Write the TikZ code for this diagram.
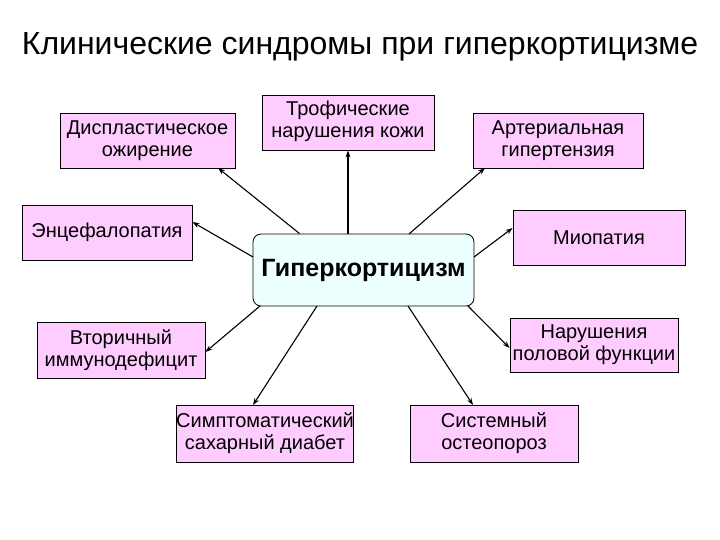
\documentclass[tikz,border=0pt]{standalone}
\usepackage{fontspec}
\setmainfont{Liberation Sans}
\usetikzlibrary{arrows.meta}
\definecolor{pinkbox}{HTML}{FFCCFF}
\definecolor{cyanbox}{HTML}{EEFFFF}
\begin{document}
\begin{tikzpicture}[x=1pt,y=-1pt,
  syn/.style={draw=black,fill=pinkbox,line width=0.8pt,align=center,font=\fontsize{20}{22}\selectfont,inner sep=0pt},
  arr/.style={-{Stealth[length=7pt,width=5pt]},line width=1.1pt}]
\useasboundingbox (0,0) rectangle (720,540);
\node (t) at (360,47) {\fontsize{32}{34}\selectfont Клинические синдромы при гиперкортицизме};
\node[syn,minimum width=175,minimum height=55] (b1) at (147.5,140.5) {Диспластическое\\ожирение};
\node[syn,minimum width=172,minimum height=55] (b2) at (348,122.5) {\raisebox{6pt}{\begin{tabular}{@{}c@{}}Трофические\\нарушения кожи\end{tabular}}};
\node[syn,minimum width=170,minimum height=55] (b3) at (558,140.5) {Артериальная\\гипертензия};
\node[syn,minimum width=170,minimum height=55] (b4) at (107,232.5) {Энцефалопатия};
\node[syn,minimum width=172,minimum height=55] (b5) at (599,237.5) {Миопатия};
\node[syn,minimum width=168,minimum height=56] (b6) at (121,350) {Вторичный\\иммунодефицит};
\node[syn,minimum width=168,minimum height=54] (b7) at (594,345) {Нарушения\\половой функции};
\node[syn,minimum width=170,minimum height=57] (b8) at (265,433.5) {Симптоматический\\сахарный диабет};
\node[syn,minimum width=168,minimum height=57] (b9) at (494,433.5) {Системный\\остеопороз};
\node[draw=black,fill=cyanbox,rounded corners=8pt,line width=0.8pt,minimum width=221,minimum height=72,inner sep=0pt,font=\fontsize{25}{28}\selectfont\bfseries] (c) at (363.5,270) {Гиперкортицизм};
\draw[arr] (c.north west)++(47,0) coordinate (s1) -- (218,168);
\draw[arr] (c.north -| b2) -- (b2.south);
\draw[arr] (409,234) -- (485,168);
\draw[arr] (253,257) -- (b4.east |- 0,222);
\draw[arr] (474,257) -- (b5.west |- 0,228);
\draw[arr] (260,306) -- (b6.east |- 0,352);
\draw[arr] (468,306) -- (b7.west |- 0,348);
\draw[arr] (317,306) -- (253,405);
\draw[arr] (408,306) -- (473,405);
\end{tikzpicture}
\end{document}
